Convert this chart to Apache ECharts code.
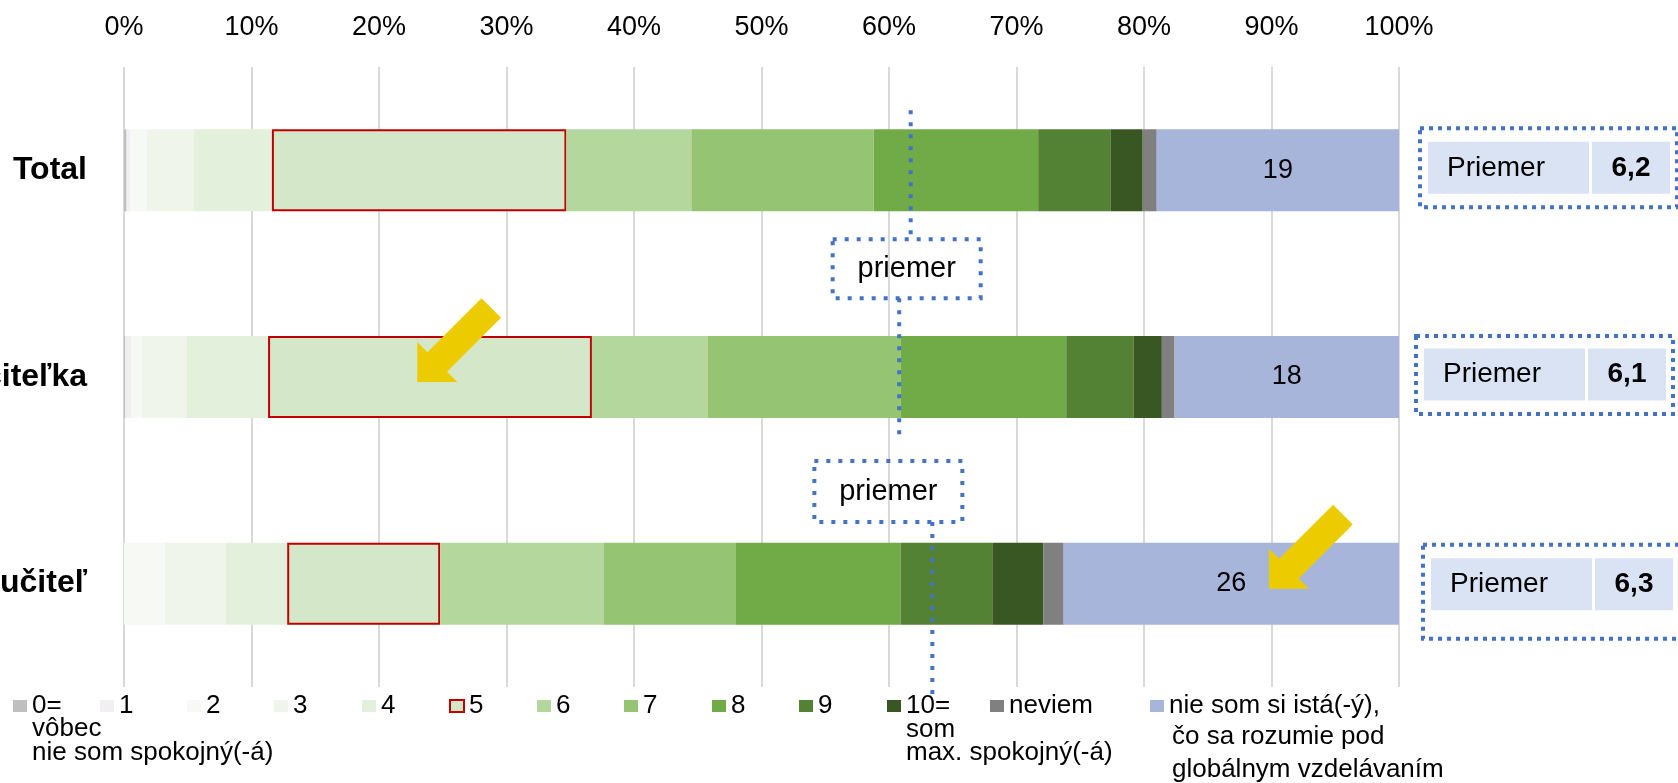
<!DOCTYPE html>
<html><head><meta charset="utf-8">
<script src="https://cdn.jsdelivr.net/npm/echarts@6/dist/echarts.min.js"></script>
<style>html,body{margin:0;padding:0;background:#fff}#c{width:1678px;height:783px}</style>
</head><body><div id="c"></div>
<script>
// ---- data ----
const categories = ['Total', 'Učiteľka', 'Neučiteľ'];
const seriesNames = ['0=', '1', '2', '3', '4', '5', '6', '7', '8', '9', '10=', 'neviem', 'nie som si istá(-ý),'];
const v0 = [0.2, 0.1, 0];
const v1 = [0.3, 0.5, 0];
const v2 = [1.3, 0.8, 3.2];
const v3 = [3.7, 3.5, 4.8];
const v4 = [6.1, 6.4, 4.8];
const v5 = [23.1, 25.4, 12.0];
const v6 = [9.8, 9.1, 12.8];
const v7 = [14.3, 15.1, 10.4];
const v8 = [12.9, 13.0, 12.9];
const v9 = [5.7, 5.3, 7.2];
const v10 = [2.5, 2.2, 4.0];
const vNeviem = [1.1, 1.0, 1.6];
const vUnsure = [19.0, 17.6, 26.3];
const means = ['6,2', '6,1', '6,3'];
const meanMarkerPct = [61.7, 60.8, 63.4];
const arrowTipPct = [23.0, 89.8];
const arrowRows = [1, 2];
const legendExtraLines = {
  '0=': ['vôbec', 'nie som spokojný(-á)'],
  '10=': ['som', 'max. spokojný(-á)'],
  'nie som si istá(-ý),': ['čo sa rozumie pod', 'globálnym vzdelávaním']
};
const meanLabel = 'Priemer';
const markerLabel = 'priemer';

// ---- styles / layout ----
const values = [v0, v1, v2, v3, v4, v5, v6, v7, v8, v9, v10, vNeviem, vUnsure];
const colors = ['#bfbfbf', '#f2eff2', '#f7f9f4', '#eff5ea', '#e3f0dc', '#d4e7c9', '#b4d79e',
  '#95c573', '#70ab47', '#548235', '#385723', '#808080', '#a8b5da'];
const FF = "'Liberation Sans', Arial, sans-serif";
const legendLeft = [13, 100, 187, 274, 362, 449, 537, 624, 712, 799, 887, 990, 1150];

const chart = echarts.init(document.getElementById('c'), null, {renderer: 'canvas'});

const option = {
  animation: false,
  backgroundColor: '#fff',
  grid: {left: 124, right: 279, top: 67, height: 620, containLabel: false, outerBoundsMode: 'none'},
  xAxis: {
    type: 'value', position: 'top', min: 0, max: 100, interval: 10,
    axisLine: {show: false}, axisTick: {show: false},
    splitLine: {show: true, lineStyle: {color: '#d9d9d9', width: 2}},
    axisLabel: {formatter: '{value}%', fontFamily: FF, fontSize: 27, color: '#000', margin: 26}
  },
  yAxis: {
    type: 'category', inverse: true, data: categories,
    axisLine: {show: false}, axisTick: {show: false},
    axisLabel: {fontFamily: FF, fontSize: 32, fontWeight: 'bold', color: '#000', margin: 37}
  },
  legend: seriesNames.map((n, i) => ({
    data: [n], left: legendLeft[i], top: 691, orient: 'horizontal',
    itemWidth: 14, itemHeight: 12, itemGap: 0, padding: 0, icon: 'rect', selectedMode: false,
    textStyle: {fontFamily: FF, fontSize: 26, color: '#000', lineHeight: 30}
  })),
  series: seriesNames.map((n, i) => ({
    name: n, type: 'bar', stack: 'all', data: values[i], barWidth: 82,
    itemStyle: {color: colors[i], borderColor: i === 5 ? '#c00000' : colors[i], borderWidth: i === 5 ? 2 : 0},
    emphasis: {disabled: true},
    label: i === 12 ? {show: true, position: 'inside', formatter: p => String(Math.round(p.value)),
      fontFamily: FF, fontSize: 27, color: '#000'} : {show: false}
  }))
};
chart.setOption(option);

// ---- annotations ----
const xp = v => chart.convertToPixel({xAxisIndex: 0}, v);
const cy = categories.map(c => chart.convertToPixel({yAxisIndex: 0}, c));
const BLUE = '#4472c4';
const g = [];
function dotLine(x, y1, y2) {
  g.push({type: 'line', z: 100, shape: {x1: x, y1: y1, x2: x, y2: y2},
    style: {stroke: BLUE, lineWidth: 4, lineDash: [4, 8]}});
}
function dotRect(x, y, w, h, dash) {
  g.push({type: 'rect', z: 100, shape: {x: x, y: y, width: w, height: h},
    style: {fill: 'rgba(0,0,0,0)', stroke: BLUE, lineWidth: 4, lineDash: dash}});
}
function txt(t, x, y, size, weight, align) {
  g.push({type: 'text', z: 101, style: {text: t, x: x, y: y, fill: '#000', fontFamily: FF,
    fontSize: size, fontWeight: weight || 'normal', align: align || 'left', verticalAlign: 'middle'}});
}
// mean marker lines and "priemer" boxes
const lx = meanMarkerPct.map(xp);
dotLine(lx[0], cy[0] - 60, cy[0] + 68);
const boxA = {x: lx[0] - 78, y: cy[0] + 69, w: 148, h: 59};
dotRect(boxA.x, boxA.y, boxA.w, boxA.h, [4, 8]);
txt(markerLabel, boxA.x + boxA.w / 2, boxA.y + boxA.h / 2, 29, 'normal', 'center');
dotLine(lx[1], boxA.y + boxA.h, cy[1] + 58);
const boxB = {x: lx[2] - 118, y: cy[1] + 84, w: 148, h: 61};
dotRect(boxB.x, boxB.y, boxB.w, boxB.h, [4, 8]);
txt(markerLabel, boxB.x + boxB.w / 2, boxB.y + boxB.h / 2, 29, 'normal', 'center');
dotLine(lx[2], boxB.y + boxB.h, cy[2] + 111);

// right-side mean boxes
const outerLeft = [1420, 1416, 1423];
const outerTopRel = [-42, -41, -39];
const outerBotRel = [37, 37, 55];
const cellTopRel = [-28.5, -28.5, -25.5];
means.forEach((m, i) => {
  const ol = outerLeft[i];
  const ct = cy[i] + cellTopRel[i];
  g.push({type: 'rect', z: 99, shape: {x: ol + 8, y: ct, width: 161, height: 52}, style: {fill: '#dae3f3'}});
  g.push({type: 'rect', z: 99, shape: {x: ol + 172, y: ct, width: 78, height: 52}, style: {fill: '#dae3f3'}});
  dotRect(ol, cy[i] + outerTopRel[i], i === 2 ? 300 : 257, outerBotRel[i] - outerTopRel[i], [4, 5]);
  txt(meanLabel, ol + 27, ct + 26, 28, 'normal', 'left');
  txt(m, ol + 211, ct + 26, 28, 'bold', 'center');
});

// yellow arrows
arrowTipPct.forEach((p, k) => {
  const tx = xp(p), ty = cy[arrowRows[k]] + 5;
  const pts = [[0, 0], [0, -40], [10.2, -29.8], [64.2, -83.8], [83.8, -64.2], [29.8, -10.2], [40, 0]]
    .map(q => [tx + q[0], ty + q[1]]);
  g.push({type: 'polygon', z: 102, shape: {points: pts}, style: {fill: '#eccc00'}});
});

// extra legend lines
const extraPos = {
  '0=': {dy: [729, 753], dx: 0},
  '10=': {dy: [730, 753], dx: 0},
  'nie som si istá(-ý),': {dy: [737, 770], dx: 3}
};
Object.keys(legendExtraLines).forEach(k => {
  const i = seriesNames.indexOf(k);
  legendExtraLines[k].forEach((t, j) => txt(t, legendLeft[i] + 19 + extraPos[k].dx, extraPos[k].dy[j], 26));
});

chart.setOption({graphic: g});
</script>
</body></html>
